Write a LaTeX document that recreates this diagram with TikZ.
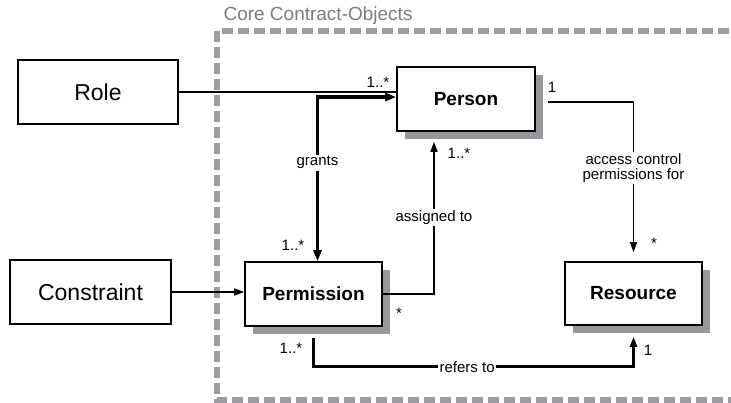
\documentclass[tikz,border=0pt]{standalone}
\usepackage{fontspec}
\setmainfont{Liberation Sans}
\usepackage{tikz}
\usetikzlibrary{calc,positioning,arrows.meta,shadows}
\definecolor{frameGrey}{RGB}{155,157,161}
\definecolor{shadowGrey}{RGB}{150,152,156}
\definecolor{titleGrey}{RGB}{125,125,125}

\begin{document}
\begin{tikzpicture}[x=1pt,y=-1pt,
    outer/.style={draw,line width=1.3pt,minimum width=160pt,minimum height=64pt,font=\fontsize{23}{26}\selectfont},
    core/.style={draw,line width=1.6pt,fill=white,minimum width=137pt,minimum height=64pt,
      font=\fontsize{19}{22}\selectfont\bfseries,
      drop shadow={shadow xshift=8pt,shadow yshift=-8pt,fill=shadowGrey,opacity=1}},
    lbl/.style={fill=white,inner sep=1.5pt,font=\fontsize{15}{15}\selectfont},
    mult/.style={inner sep=0pt,font=\fontsize{15}{17}\selectfont},
    tip/.style={-{Triangle[length=10pt,width=7pt]}}]
        \useasboundingbox (0,0) rectangle (731,403);
        \clip (0,0) rectangle (731,403);
        % package frame
        \draw[frameGrey,line width=6pt,dash pattern=on 11pt off 5pt] (745,31) -- (217,31) -- (217,400) -- (745,400);
        \node[text=titleGrey,font=\fontsize{19}{22}\selectfont,anchor=west] (title) at (220,16) {Core Contract-Objects};
        % classes
        \node[outer] (role) at (98,92) {Role};
        \node[outer,minimum width=161pt] (constraint) at (90.5,292) {Constraint};
        \node[core,minimum width=138pt] (person) at (466,99) {Person};
        \node[core] (permission) at (313.5,294) {Permission};
        \node[core,minimum height=63pt] (resource) at (633.5,293.5) {Resource};
        % associations
        \draw[line width=1.3pt] (role.east) -- (role.east -| person.west);
        \draw[line width=1.3pt,tip] (constraint.east) -- (constraint.east -| permission.west);
        \draw[line width=3.5pt,{Triangle[length=11pt,width=8pt]}-{Triangle[length=11pt,width=8pt]}]
          ([yshift=2pt]person.west) -| ([xshift=4pt]permission.north) node[lbl,pos=0.7] (grants) {grants};
        \draw[line width=1.6pt,tip] (permission.east) -| ([xshift=-32pt,yshift=-10pt]person.south)
          node[lbl,pos=0.75] (assigned) {assigned to};
        \draw[line width=1.6pt,tip] ([xshift=12pt,yshift=-3pt]person.east) -| ([yshift=9pt]resource.north)
          node[lbl,pos=0.72,align=center] (access) {access control\\permissions for};
        \draw[line width=3pt,tip] ([yshift=-11pt]permission.south) -- ++(0,29) -| ([yshift=-11pt]resource.south)
          node[lbl,pos=0.24] (refers) {refers to};
        % multiplicities
        \node[mult] (multRole) at (378,82) {1..*};
        \node[mult] (multPersonB) at (459,153) {1..*};
        \node[mult] (multPersonR) at (552,87) {1};
        \node[mult] (multResT) at (654,243) {*};
        \node[mult] (multPermT) at (293,245) {1..*};
        \node[mult] (multPermR) at (399,313) {*};
        \node[mult] (multPermB) at (291,348) {1..*};
        \node[mult] (multResB) at (648,350) {1};
      \end{tikzpicture}
\end{document}
